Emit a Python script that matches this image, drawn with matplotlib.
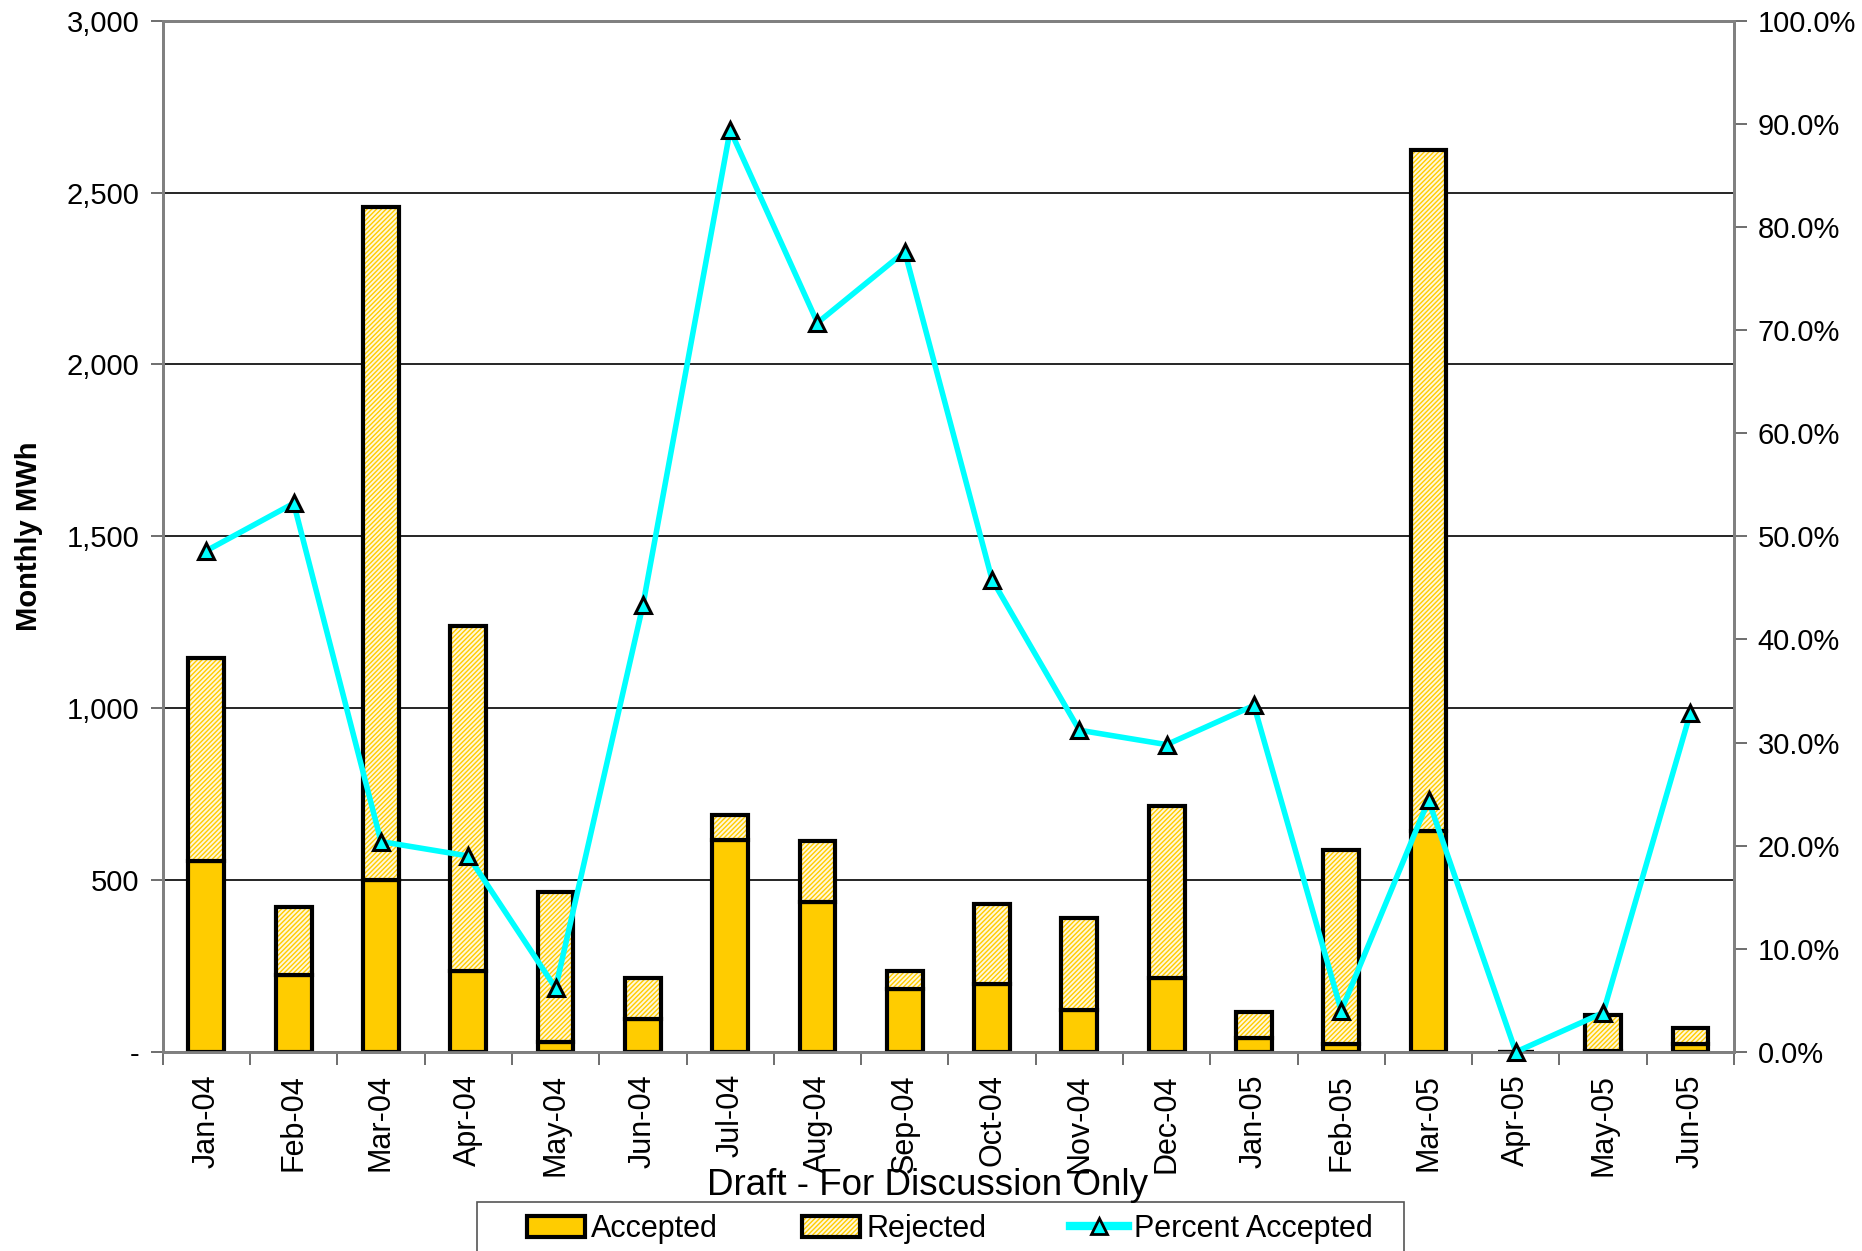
import numpy as np
import matplotlib
matplotlib.use("Agg")
import matplotlib.pyplot as plt
from matplotlib.patches import Patch, Rectangle
from matplotlib.lines import Line2D
from matplotlib.ticker import FuncFormatter

plt.rcParams['font.family'] = ['Liberation Sans', 'DejaVu Sans']
plt.rcParams['hatch.linewidth'] = 1.0

months = ['Jan-04', 'Feb-04', 'Mar-04', 'Apr-04', 'May-04', 'Jun-04',
          'Jul-04', 'Aug-04', 'Sep-04', 'Oct-04', 'Nov-04', 'Dec-04',
          'Jan-05', 'Feb-05', 'Mar-05', 'Apr-05', 'May-05', 'Jun-05']
accepted = [556, 224, 500, 235, 28, 97, 618, 435, 183, 197, 121, 214,
            41, 24, 642, 0, 4, 23]
total = [1146, 421, 2458, 1239, 466, 214, 690, 614, 235, 431, 390, 715,
         117, 587, 2624, 0, 107, 69]
pct_accepted = [48.6, 53.2, 20.4, 19.0, 6.2, 43.3, 89.4, 70.7, 77.6, 45.8,
                31.2, 29.8, 33.6, 4.0, 24.4, 0.0, 3.8, 32.9]

rejected = [t - a for t, a in zip(total, accepted)]
x = np.arange(len(months))
gold = '#FFCC00'
hatch_col = '#FFCC00'
rej_face = '#FFF8DC'
hatch = '///////'

fig = plt.figure(figsize=(18.62, 12.51), dpi=100)
ax = fig.add_axes([0.0874, 0.1591, 0.8439, 0.8244])

w = 0.41
ax.bar(x, accepted, w, color=gold, edgecolor='black', linewidth=3, zorder=3)
# hatched fill of the rejected part, then black outline on top
ax.bar(x, rejected, w, bottom=accepted, color=rej_face, edgecolor=hatch_col,
       hatch=hatch, linewidth=0, zorder=3)
ax.bar(x, rejected, w, bottom=accepted, fill=False, edgecolor='black',
       linewidth=3, zorder=4)

ax.set_xlim(-0.5, len(months) - 0.5)
ax.set_ylim(0, 3000)
ax.set_yticks(np.arange(0, 3001, 500))
ax.yaxis.set_major_formatter(FuncFormatter(lambda v, p: '-' if v == 0 else f'{int(v):,}'))
ax.grid(axis='y', color='black', linewidth=1.2, zorder=0)
ax.set_axisbelow(True)

ax.set_xticks(x)
ax.set_xticklabels(months, rotation=90, fontsize=22)
ax.set_xticks(np.arange(-0.5, len(months), 1), minor=True)
ax.tick_params(axis='x', which='major', length=0, pad=16)
ax.tick_params(axis='x', which='minor', length=9, width=1.2, color='#555555', direction='out')
ax.tick_params(axis='y', labelsize=21, length=9, width=1.2, color='#555555', direction='out', pad=8)

for s in ['left', 'bottom', 'top', 'right']:
    ax.spines[s].set_color('#808080')
    ax.spines[s].set_linewidth(2)

ax.set_ylabel('Monthly MWh', fontsize=21, fontweight='bold', labelpad=17)

ax2 = ax.twinx()
ax2.plot(x, pct_accepted, color='#00FFFF', linewidth=4, marker='^',
         markersize=12, markerfacecolor='#00FFFF', markeredgecolor='black',
         markeredgewidth=2.2, zorder=5, clip_on=False)
ax2.set_ylim(0, 100)
ax2.set_yticks(np.arange(0, 101, 10))
ax2.yaxis.set_major_formatter(FuncFormatter(lambda v, p: f'{v:.1f}%'))
ax2.tick_params(axis='y', labelsize=21, length=9, width=1.2, color='#555555', direction='out', pad=8)
for s in ['left', 'bottom', 'top', 'right']:
    ax2.spines[s].set_color('#808080')
    ax2.spines[s].set_linewidth(2)

fig.text(0.498, 0.052, 'Draft - For Discussion Only', ha='center', va='center',
         fontsize=26.5)

# legend box (runs off the bottom edge, as in the original)
fig.patches.append(Rectangle((0.2563, -0.02), 0.4977, 0.0592, transform=fig.transFigure,
                             facecolor='white', edgecolor='#555555', linewidth=1.2))

handles = [
    Patch(facecolor=gold, edgecolor='black', linewidth=3),
    (Patch(facecolor=rej_face, edgecolor=hatch_col, hatch=hatch, linewidth=0),
     Patch(fill=False, edgecolor='black', linewidth=3)),
    Line2D([0], [0], color='#00FFFF', linewidth=6, marker='^', markersize=11,
           markerfacecolor='#00FFFF', markeredgecolor='black', markeredgewidth=2),
]
leg = fig.legend(handles, ['Accepted', 'Rejected', 'Percent Accepted'],
                 loc='center left', bbox_to_anchor=(0.283, 0.0176), ncol=3,
                 fontsize=22, frameon=False,
                 handlelength=1.9, handletextpad=0.2, columnspacing=2.75,
                 borderpad=0, borderaxespad=0)

fig.savefig('out.png', dpi=100)
